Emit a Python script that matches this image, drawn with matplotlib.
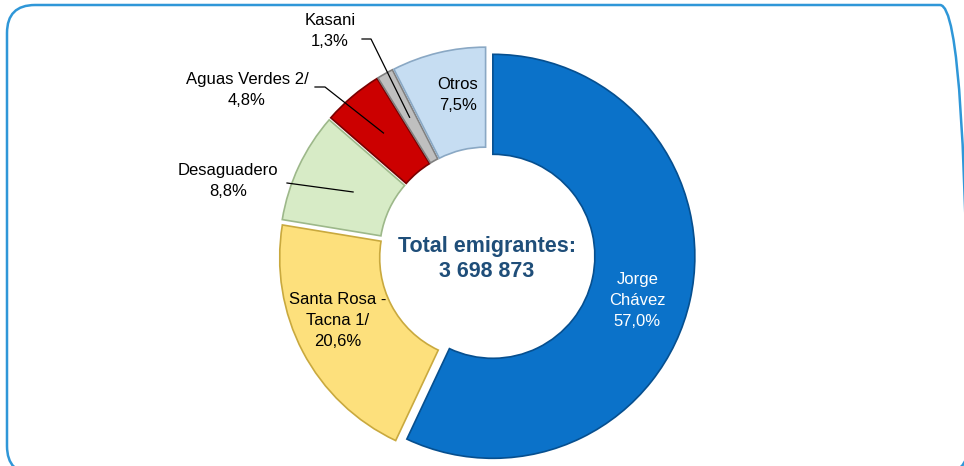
import numpy as np
import matplotlib
matplotlib.use("Agg")
from matplotlib import pyplot as plt
from matplotlib.patches import FancyBboxPatch

# datos: emigrantes por punto de control
puntos = ["Jorge\nChávez", "Santa Rosa -\nTacna 1/", "Desaguadero", "Aguas Verdes 2/", "Kasani", "Otros"]
porcentajes = [57.0, 20.6, 8.8, 4.8, 1.3, 7.5]
etiquetas_pct = ["57,0%", "20,6%", "8,8%", "4,8%", "1,3%", "7,5%"]
total_texto = "Total emigrantes:\n3 698 873"

colores = ["#0B72C9", "#FDE07C", "#D7EBC6", "#CC0000", "#BFBFBF", "#C6DDF2"]
bordes = ["#064F8F", "#C9A93E", "#9DB88A", "#7A0000", "#808080", "#8AA8C4"]

W, H = 964, 466
fuente = ["Liberation Sans", "DejaVu Sans"]

fig = plt.figure(figsize=(W / 100, H / 100), dpi=100)
ax = fig.add_axes([0, 0, 1, 1])
ax.axis("off")

# marco redondeado
marco = FancyBboxPatch((7, H - 474), 961, 474 - 5,
                       boxstyle="round,pad=0,rounding_size=28",
                       fill=False, edgecolor="#2F97D8", linewidth=1.8)
ax.add_patch(marco)

cx, cy = 487, H - 255
R = 202
wedges, _ = ax.pie(porcentajes, startangle=90, counterclock=False,
                   colors=colores, radius=R, center=(cx, cy),
                   explode=[6] * len(porcentajes),
                   wedgeprops=dict(width=100, linewidth=1.2))
for w, b in zip(wedges, bordes):
    w.set_edgecolor(b)
ax.set_xlim(0, W)
ax.set_ylim(0, H)
ax.set_aspect("equal")


def punto(w, r, dang=0.0):
    ang = np.deg2rad((w.theta1 + w.theta2) / 2 + dang)
    ox, oy = w.center
    return ox + r * np.cos(ang), oy + r * np.sin(ang)


# etiquetas dentro del anillo (radio, giro en grados, color)
dentro = {0: (151, -4.4, "white"), 1: (157, -4.0, "black"), 5: (157, -3.4, "black")}
for i, (r, da, c) in dentro.items():
    x, y = punto(wedges[i], r, da)
    ax.text(x, y, puntos[i] + "\n" + etiquetas_pct[i], ha="center", va="center",
            fontsize=12, color=c, family=fuente, linespacing=1.5)

# etiquetas fuera con líneas guía (posición del texto, inicio de la línea, radio del final)
fuera = {2: ((228, 181), [(287, 183)], 142),
         3: ((247, 90), [(315, 87), (325, 87)], 154),
         4: ((330, 31), [(362, 39), (371, 39)], 152)}
for i, ((tx, ty), guia, r) in fuera.items():
    ax.text(tx, H - ty, puntos[i] + "\n" + etiquetas_pct[i], ha="center", va="center",
            fontsize=12, color="black", family=fuente, linespacing=1.5)
    ex, ey = punto(wedges[i], r)
    xs = [p[0] for p in guia] + [ex]
    ys = [H - p[1] for p in guia] + [ey]
    ax.plot(xs, ys, color="black", linewidth=0.9)

ax.text(cx, H - 259, total_texto, ha="center", va="center", fontsize=15.5,
        fontweight="bold", color="#1F4E79", family=fuente, linespacing=1.3)

fig.savefig("out.png", dpi=100)
